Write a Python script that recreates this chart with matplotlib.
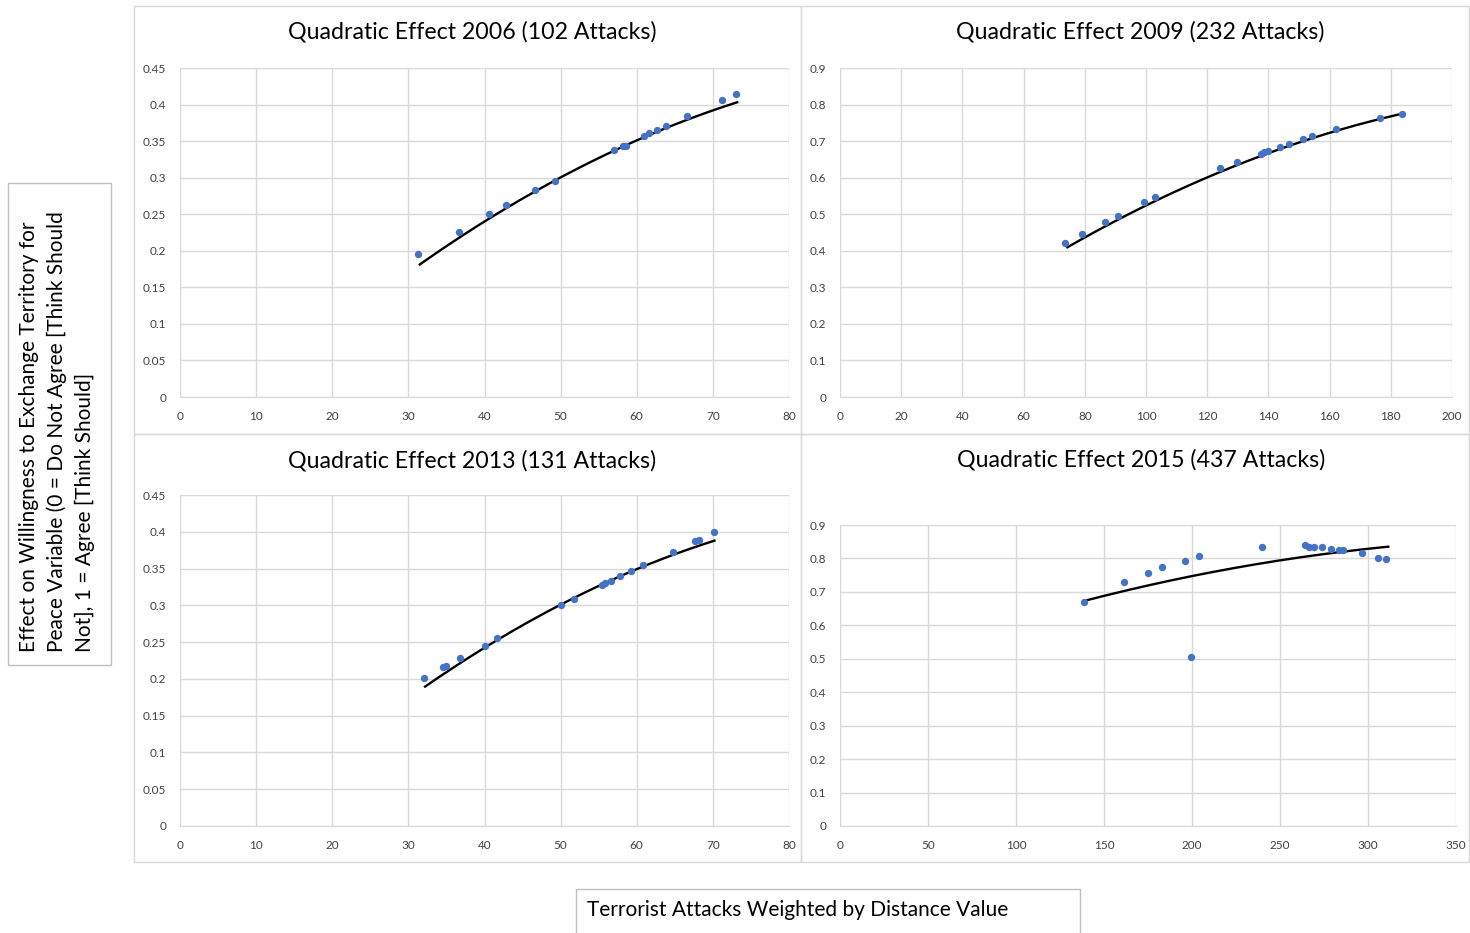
import numpy as np
import matplotlib
matplotlib.use("Agg")
import matplotlib.pyplot as plt
from matplotlib.patches import Rectangle
from matplotlib.ticker import FuncFormatter

plt.rcParams["font.family"] = ["Lato", "DejaVu Sans"]

# Datos por año: ataques ponderados por distancia vs. efecto estimado
x_2006 = [31.2, 36.7, 40.6, 42.8, 46.6, 49.2, 57.0, 58.2, 58.6, 60.9, 61.6, 62.6, 63.8, 66.6, 71.2, 73.0]
y_2006 = [0.195, 0.226, 0.250, 0.262, 0.283, 0.296, 0.338, 0.343, 0.343, 0.357, 0.361, 0.365, 0.371, 0.385, 0.406, 0.415]

x_2009 = [73.5, 79.0, 86.6, 90.9, 99.3, 102.9, 124.3, 129.8, 137.5, 138.6, 139.8, 143.7, 146.7, 151.3, 154.3, 162.1, 176.6, 183.7]
y_2009 = [0.421, 0.446, 0.479, 0.496, 0.534, 0.546, 0.626, 0.643, 0.665, 0.670, 0.672, 0.684, 0.692, 0.705, 0.714, 0.734, 0.763, 0.775]

x_2013 = [32.0, 34.6, 35.0, 36.8, 40.0, 41.6, 50.1, 51.8, 55.4, 55.8, 56.6, 57.8, 59.2, 60.8, 64.7, 67.6, 68.2, 70.1]
y_2013 = [0.201, 0.216, 0.218, 0.228, 0.245, 0.255, 0.300, 0.309, 0.328, 0.330, 0.333, 0.340, 0.346, 0.355, 0.373, 0.387, 0.389, 0.400]

x_2015 = [138.6, 161.2, 175.2, 183.0, 195.9, 203.8, 199.4, 239.9, 264.4, 266.6, 269.3, 273.9, 279.1, 283.7, 285.6, 296.4, 305.9, 310.2]
y_2015 = [0.670, 0.729, 0.757, 0.775, 0.793, 0.807, 0.505, 0.835, 0.839, 0.835, 0.835, 0.835, 0.829, 0.825, 0.825, 0.815, 0.802, 0.797]

# coeficientes del efecto cuadrático (a*x^2 + b*x + c) y rango de la curva
quad_2006 = [-4.807e-5, 0.010353, -0.09714]
quad_2009 = [-1.3217e-5, 0.006750, -0.01896]
quad_2013 = [-5.128e-5, 0.010471, -0.09445]
quad_2015 = [-2.454e-6, 0.002043, 0.43686]
span_2006 = [31.5, 73.2]
span_2009 = [74.3, 183.7]
span_2013 = [32.2, 70.2]
span_2015 = [139.2, 311.5]

titles = ["Quadratic Effect 2006 (102 Attacks)", "Quadratic Effect 2009 (232 Attacks)",
          "Quadratic Effect 2013 (131 Attacks)", "Quadratic Effect 2015 (437 Attacks)"]

W, H = 1470, 933
fig = plt.figure(figsize=(W / 100, H / 100), dpi=100)

def px_rect(x0, y0, x1, y1):
    return [x0 / W, 1 - y1 / H, (x1 - x0) / W, (y1 - y0) / H]

grid_c = "#d9d9d9"
dot_c = "#4472C4"
fmt = FuncFormatter(lambda v, p: "{:g}".format(round(v, 3)))

# marcos de cada gráfico
for (x0, y0, x1, y1) in [(134, 6, 801, 434), (801, 6, 1469, 434), (134, 434, 801, 862), (801, 434, 1469, 862)]:
    fig.patches.append(Rectangle((x0 / W, 1 - y1 / H), (x1 - x0) / W, (y1 - y0) / H,
                                 transform=fig.transFigure, fill=False, edgecolor=grid_c, lw=1))

panels = [
    (x_2006, y_2006, quad_2006, span_2006, (180, 68, 789, 397), 80, 10, 0.45, 0.05, (472, 32)),
    (x_2009, y_2009, quad_2009, span_2009, (840, 68, 1452, 397), 200, 20, 0.9, 0.1, (1140, 32)),
    (x_2013, y_2013, quad_2013, span_2013, (180, 495, 789, 826), 80, 10, 0.45, 0.05, (472, 461)),
    (x_2015, y_2015, quad_2015, span_2015, (840, 525, 1456, 826), 350, 50, 0.9, 0.1, (1141, 460)),
]

for i, (xs, ys, quad, span, box, xmax, xstep, ymax, ystep, tpos) in enumerate(panels):
    ax = fig.add_axes(px_rect(*box))

    # curva del efecto cuadrático
    xx = np.linspace(span[0], span[1], 200)
    ax.plot(xx, np.polyval(quad, xx), color="black", lw=1.7, zorder=2)
    ax.scatter(xs, ys, s=28, color=dot_c, zorder=3, linewidths=0)

    ax.set_xlim(0, xmax)
    ax.set_ylim(0, ymax)
    ax.set_xticks(np.arange(0, xmax + xstep / 2, xstep))
    ax.set_yticks(np.arange(0, ymax + ystep / 2, ystep))
    ax.xaxis.set_major_formatter(fmt)
    ax.yaxis.set_major_formatter(fmt)
    ax.grid(True, color=grid_c, lw=1)
    ax.set_axisbelow(True)
    for s in ["top", "right", "left"]:
        ax.spines[s].set_visible(False)
    ax.spines["bottom"].set_color(grid_c)
    ax.tick_params(length=0, labelsize=8.5, labelcolor="#404040", pad=10)

    fig.text(tpos[0] / W, 1 - tpos[1] / H, titles[i], ha="center", va="center", fontsize=16.7, color="black")

# etiqueta del eje Y común
fig.patches.append(Rectangle((8 / W, 1 - 665 / H), 103 / W, 482 / H, transform=fig.transFigure,
                             fill=False, edgecolor="#bfbfbf", lw=1))
fig.text(57 / W, 1 - 652 / H,
         "Effect on Willingness to Exchange Territory for\nPeace Variable (0 = Do Not Agree [Think Should\nNot], 1 = Agree [Think Should]",
         rotation=90, ha="center", va="bottom", multialignment="left", fontsize=15, linespacing=1.45)

# etiqueta del eje X común
fig.patches.append(Rectangle((576 / W, 1 - 940 / H), 504 / W, 51 / H, transform=fig.transFigure,
                             fill=False, edgecolor="#bfbfbf", lw=1))
fig.text(587 / W, 1 - 910 / H, "Terrorist Attacks Weighted by Distance Value", ha="left", va="center", fontsize=15)

fig.savefig("out.png", dpi=100)
plt.close(fig)
